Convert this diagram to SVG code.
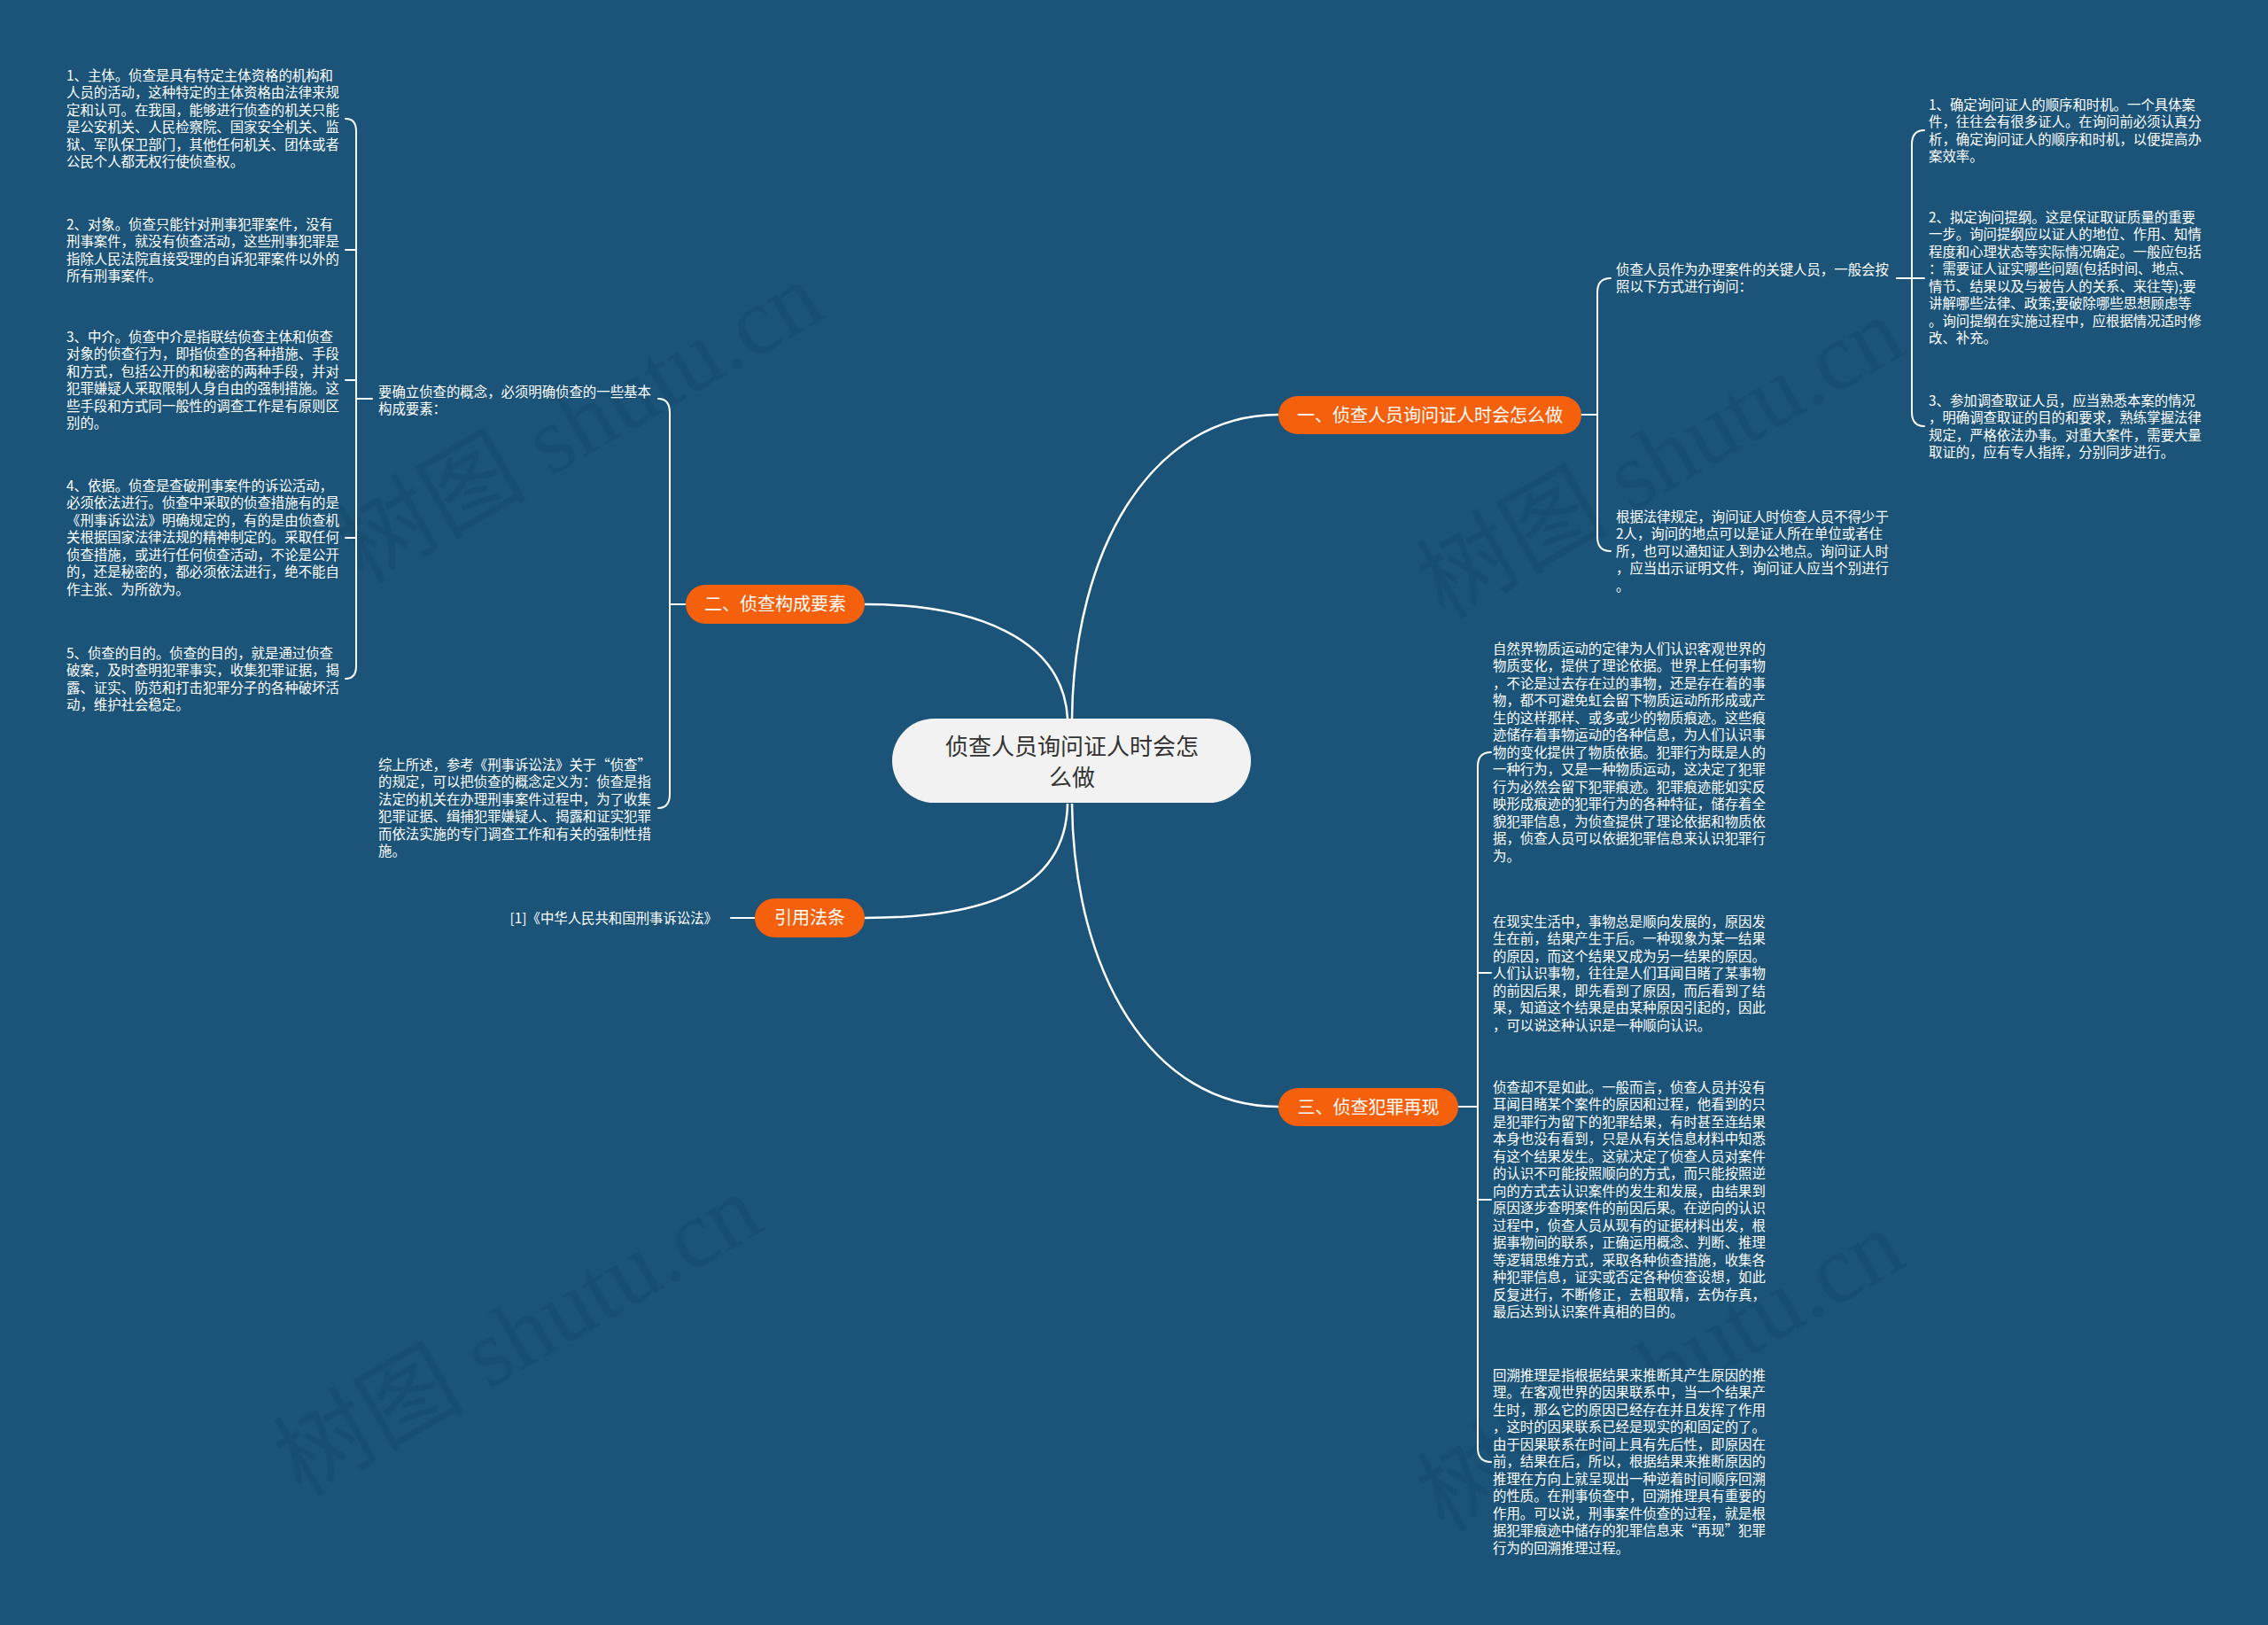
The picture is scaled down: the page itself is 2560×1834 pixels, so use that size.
<svg xmlns="http://www.w3.org/2000/svg" width="2560" height="1834" viewBox="0 0 2560 1834">
<style>
.t{font-family:"Noto Sans CJK SC","Noto Sans",sans-serif;font-size:15.4px;fill:#ffffff}
.bt{font-family:"Noto Sans CJK SC","Noto Sans",sans-serif;font-size:20px;fill:#ffffff;text-anchor:middle}
.ct{font-family:"Noto Sans CJK SC","Noto Sans",sans-serif;font-size:26px;fill:#333333;text-anchor:middle}
.bn{fill:#f4600c}
.ln{stroke:#ffffff;stroke-width:2;fill:none;stroke-linecap:round}
.cv{stroke:#ffffff;stroke-width:2.5;fill:none}
.wm{font-family:"Liberation Serif","Noto Sans CJK SC",serif;font-size:108px;fill:#0d3550;opacity:0.16}
</style>
<rect x="0" y="0" width="2560" height="1834" fill="#1b5478"/>
<g id="watermarks">
<text class="wm" transform="translate(410,660) rotate(-30)">树图 shutu.cn</text>
<text class="wm" transform="translate(1630,700) rotate(-30)">树图 shutu.cn</text>
<text class="wm" transform="translate(340,1690) rotate(-30)">树图 shutu.cn</text>
<text class="wm" transform="translate(1630,1730) rotate(-30)">树图 shutu.cn</text>
</g>
<g id="connectors">
<path class="cv" d="M1210,811 C1212,620 1300,468 1443,468"/>
<path class="cv" d="M1205,811 C1200,720 1100,682 976,682"/>
<path class="cv" d="M1205,907 C1203,1010 1100,1036 976,1036"/>
<path class="cv" d="M1210,907 C1212,1098 1300,1249 1443,1249"/>
<path class="ln" d="M1785,468 H1803"/>
<path class="ln" d="M1818,314 Q1803,314 1803,330 V606 Q1803,622 1818,622"/>
<path class="ln" d="M2141,314 H2172"/>
<path class="ln" d="M2172,147 Q2158,147 2158,163 V465 Q2158,481 2172,481"/>
<path class="ln" d="M774,682 H756"/>
<path class="ln" d="M743,450 Q756,450 756,466 V896 Q756,912 743,912"/>
<path class="ln" d="M420,450 H402"/>
<path class="ln" d="M390,134 Q402,134 402,148 V752 Q402,766 390,766"/>
<path class="ln" d="M402,282 H390 M402,429 H390 M402,607 H390"/>
<path class="ln" d="M852,1036 H825"/>
<path class="ln" d="M1646,1249 H1668"/>
<path class="ln" d="M1683,849 Q1668,849 1668,865 V1634 Q1668,1650 1683,1650"/>
<path class="ln" d="M1668,1098 H1683 M1668,1354 H1683"/>
</g>
<g id="center">
<rect x="1007" y="811" width="405" height="95" rx="47.5" fill="#f2f2f2"/>
<text class="ct"><tspan x="1210" y="851.5">侦查人员询问证人时会怎</tspan><tspan x="1210" y="886.5">么做</tspan></text>
</g>
<g id="branch1">
<rect class="bn" x="1443" y="447" width="342" height="43" rx="21.5"/>
<text class="bt" x="1614" y="475.5">一、侦查人员询问证人时会怎么做</text>
</g>
<g id="branch2">
<rect class="bn" x="774" y="660" width="202" height="44" rx="22"/>
<text class="bt" x="875" y="689">二、侦查构成要素</text>
</g>
<g id="branch-ref">
<rect class="bn" x="852" y="1014" width="124" height="44" rx="22"/>
<text class="bt" x="914" y="1043">引用法条</text>
</g>
<g id="branch3">
<rect class="bn" x="1443" y="1228" width="203" height="43" rx="21.5"/>
<text class="bt" x="1544.5" y="1256.5">三、侦查犯罪再现</text>
</g>
<g id="b1-intro">
<text class="t"><tspan x="1824" y="309.5">侦查人员作为办理案件的关键人员，一般会按</tspan><tspan x="1824" y="329">照以下方式进行询问：</tspan></text>
</g>
<g id="b1-c1">
<text class="t"><tspan x="2177" y="123.5">1、确定询问证人的顺序和时机。一个具体案</tspan><tspan x="2177" y="143">件，往往会有很多证人。在询问前必须认真分</tspan><tspan x="2177" y="162.5">析，确定询问证人的顺序和时机，以便提高办</tspan><tspan x="2177" y="182">案效率。</tspan></text>
</g>
<g id="b1-c2">
<text class="t"><tspan x="2177" y="250.5">2、拟定询问提纲。这是保证取证质量的重要</tspan><tspan x="2177" y="270">一步。询问提纲应以证人的地位、作用、知情</tspan><tspan x="2177" y="289.5">程度和心理状态等实际情况确定。一般应包括</tspan><tspan x="2177" y="309">：需要证人证实哪些问题(包括时间、地点、</tspan><tspan x="2177" y="328.5">情节、结果以及与被告人的关系、来往等);要</tspan><tspan x="2177" y="348">讲解哪些法律、政策;要破除哪些思想顾虑等</tspan><tspan x="2177" y="367.5">。询问提纲在实施过程中，应根据情况适时修</tspan><tspan x="2177" y="387">改、补充。</tspan></text>
</g>
<g id="b1-c3">
<text class="t"><tspan x="2177" y="457.5">3、参加调查取证人员，应当熟悉本案的情况</tspan><tspan x="2177" y="477">，明确调查取证的目的和要求，熟练掌握法律</tspan><tspan x="2177" y="496.5">规定，严格依法办事。对重大案件，需要大量</tspan><tspan x="2177" y="516">取证的，应有专人指挥，分别同步进行。</tspan></text>
</g>
<g id="b1-law">
<text class="t"><tspan x="1824" y="588.5">根据法律规定，询问证人时侦查人员不得少于</tspan><tspan x="1824" y="608">2人，询问的地点可以是证人所在单位或者住</tspan><tspan x="1824" y="627.5">所，也可以通知证人到办公地点。询问证人时</tspan><tspan x="1824" y="647">，应当出示证明文件，询问证人应当个别进行</tspan><tspan x="1824" y="666.5">。</tspan></text>
</g>
<g id="b2-intro">
<text class="t"><tspan x="427" y="447.5">要确立侦查的概念，必须明确侦查的一些基本</tspan><tspan x="427" y="467">构成要素：</tspan></text>
</g>
<g id="b2-sum">
<text class="t"><tspan x="427" y="868.5">综上所述，参考《刑事诉讼法》关于“侦查”</tspan><tspan x="427" y="888">的规定，可以把侦查的概念定义为：侦查是指</tspan><tspan x="427" y="907.5">法定的机关在办理刑事案件过程中，为了收集</tspan><tspan x="427" y="927">犯罪证据、缉捕犯罪嫌疑人、揭露和证实犯罪</tspan><tspan x="427" y="946.5">而依法实施的专门调查工作和有关的强制性措</tspan><tspan x="427" y="966">施。</tspan></text>
</g>
<g id="item1">
<text class="t"><tspan x="75" y="90.5">1、主体。侦查是具有特定主体资格的机构和</tspan><tspan x="75" y="110">人员的活动，这种特定的主体资格由法律来规</tspan><tspan x="75" y="129.5">定和认可。在我国，能够进行侦查的机关只能</tspan><tspan x="75" y="149">是公安机关、人民检察院、国家安全机关、监</tspan><tspan x="75" y="168.5">狱、军队保卫部门，其他任何机关、团体或者</tspan><tspan x="75" y="188">公民个人都无权行使侦查权。</tspan></text>
</g>
<g id="item2">
<text class="t"><tspan x="75" y="258.5">2、对象。侦查只能针对刑事犯罪案件，没有</tspan><tspan x="75" y="278">刑事案件，就没有侦查活动，这些刑事犯罪是</tspan><tspan x="75" y="297.5">指除人民法院直接受理的自诉犯罪案件以外的</tspan><tspan x="75" y="317">所有刑事案件。</tspan></text>
</g>
<g id="item3">
<text class="t"><tspan x="75" y="385.5">3、中介。侦查中介是指联结侦查主体和侦查</tspan><tspan x="75" y="405">对象的侦查行为，即指侦查的各种措施、手段</tspan><tspan x="75" y="424.5">和方式，包括公开的和秘密的两种手段，并对</tspan><tspan x="75" y="444">犯罪嫌疑人采取限制人身自由的强制措施。这</tspan><tspan x="75" y="463.5">些手段和方式同一般性的调查工作是有原则区</tspan><tspan x="75" y="483">别的。</tspan></text>
</g>
<g id="item4">
<text class="t"><tspan x="75" y="553.5">4、依据。侦查是查破刑事案件的诉讼活动，</tspan><tspan x="75" y="573">必须依法进行。侦查中采取的侦查措施有的是</tspan><tspan x="75" y="592.5">《刑事诉讼法》明确规定的，有的是由侦查机</tspan><tspan x="75" y="612">关根据国家法律法规的精神制定的。采取任何</tspan><tspan x="75" y="631.5">侦查措施，或进行任何侦查活动，不论是公开</tspan><tspan x="75" y="651">的，还是秘密的，都必须依法进行，绝不能自</tspan><tspan x="75" y="670.5">作主张、为所欲为。</tspan></text>
</g>
<g id="item5">
<text class="t"><tspan x="75" y="742.5">5、侦查的目的。侦查的目的，就是通过侦查</tspan><tspan x="75" y="762">破案，及时查明犯罪事实，收集犯罪证据，揭</tspan><tspan x="75" y="781.5">露、证实、防范和打击犯罪分子的各种破坏活</tspan><tspan x="75" y="801">动，维护社会稳定。</tspan></text>
</g>
<g id="ref-law">
<text class="t" x="810" y="1041.5" text-anchor="end">[1]《中华人民共和国刑事诉讼法》</text>
</g>
<g id="b3-a">
<text class="t"><tspan x="1685" y="737.5">自然界物质运动的定律为人们认识客观世界的</tspan><tspan x="1685" y="757">物质变化，提供了理论依据。世界上任何事物</tspan><tspan x="1685" y="776.5">，不论是过去存在过的事物，还是存在着的事</tspan><tspan x="1685" y="796">物，都不可避免虹会留下物质运动所形成或产</tspan><tspan x="1685" y="815.5">生的这样那样、或多或少的物质痕迹。这些痕</tspan><tspan x="1685" y="835">迹储存着事物运动的各种信息，为人们认识事</tspan><tspan x="1685" y="854.5">物的变化提供了物质依据。犯罪行为既是人的</tspan><tspan x="1685" y="874">一种行为，又是一种物质运动，这决定了犯罪</tspan><tspan x="1685" y="893.5">行为必然会留下犯罪痕迹。犯罪痕迹能如实反</tspan><tspan x="1685" y="913">映形成痕迹的犯罪行为的各种特征，储存着全</tspan><tspan x="1685" y="932.5">貌犯罪信息，为侦查提供了理论依据和物质依</tspan><tspan x="1685" y="952">据，侦查人员可以依据犯罪信息来认识犯罪行</tspan><tspan x="1685" y="971.5">为。</tspan></text>
</g>
<g id="b3-b">
<text class="t"><tspan x="1685" y="1045.5">在现实生活中，事物总是顺向发展的，原因发</tspan><tspan x="1685" y="1065">生在前，结果产生于后。一种现象为某一结果</tspan><tspan x="1685" y="1084.5">的原因，而这个结果又成为另一结果的原因。</tspan><tspan x="1685" y="1104">人们认识事物，往往是人们耳闻目睹了某事物</tspan><tspan x="1685" y="1123.5">的前因后果，即先看到了原因，而后看到了结</tspan><tspan x="1685" y="1143">果，知道这个结果是由某种原因引起的，因此</tspan><tspan x="1685" y="1162.5">，可以说这种认识是一种顺向认识。</tspan></text>
</g>
<g id="b3-c">
<text class="t"><tspan x="1685" y="1232.5">侦查却不是如此。一般而言，侦查人员并没有</tspan><tspan x="1685" y="1252">耳闻目睹某个案件的原因和过程，他看到的只</tspan><tspan x="1685" y="1271.5">是犯罪行为留下的犯罪结果，有时甚至连结果</tspan><tspan x="1685" y="1291">本身也没有看到，只是从有关信息材料中知悉</tspan><tspan x="1685" y="1310.5">有这个结果发生。这就决定了侦查人员对案件</tspan><tspan x="1685" y="1330">的认识不可能按照顺向的方式，而只能按照逆</tspan><tspan x="1685" y="1349.5">向的方式去认识案件的发生和发展，由结果到</tspan><tspan x="1685" y="1369">原因逐步查明案件的前因后果。在逆向的认识</tspan><tspan x="1685" y="1388.5">过程中，侦查人员从现有的证据材料出发，根</tspan><tspan x="1685" y="1408">据事物间的联系，正确运用概念、判断、推理</tspan><tspan x="1685" y="1427.5">等逻辑思维方式，采取各种侦查措施，收集各</tspan><tspan x="1685" y="1447">种犯罪信息，证实或否定各种侦查设想，如此</tspan><tspan x="1685" y="1466.5">反复进行，不断修正，去粗取精，去伪存真，</tspan><tspan x="1685" y="1486">最后达到认识案件真相的目的。</tspan></text>
</g>
<g id="b3-d">
<text class="t"><tspan x="1685" y="1557.5">回溯推理是指根据结果来推断其产生原因的推</tspan><tspan x="1685" y="1577">理。在客观世界的因果联系中，当一个结果产</tspan><tspan x="1685" y="1596.5">生时，那么它的原因已经存在并且发挥了作用</tspan><tspan x="1685" y="1616">，这时的因果联系已经是现实的和固定的了。</tspan><tspan x="1685" y="1635.5">由于因果联系在时间上具有先后性，即原因在</tspan><tspan x="1685" y="1655">前，结果在后，所以，根据结果来推断原因的</tspan><tspan x="1685" y="1674.5">推理在方向上就呈现出一种逆着时间顺序回溯</tspan><tspan x="1685" y="1694">的性质。在刑事侦查中，回溯推理具有重要的</tspan><tspan x="1685" y="1713.5">作用。可以说，刑事案件侦查的过程，就是根</tspan><tspan x="1685" y="1733">据犯罪痕迹中储存的犯罪信息来“再现”犯罪</tspan><tspan x="1685" y="1752.5">行为的回溯推理过程。</tspan></text>
</g>
</svg>
